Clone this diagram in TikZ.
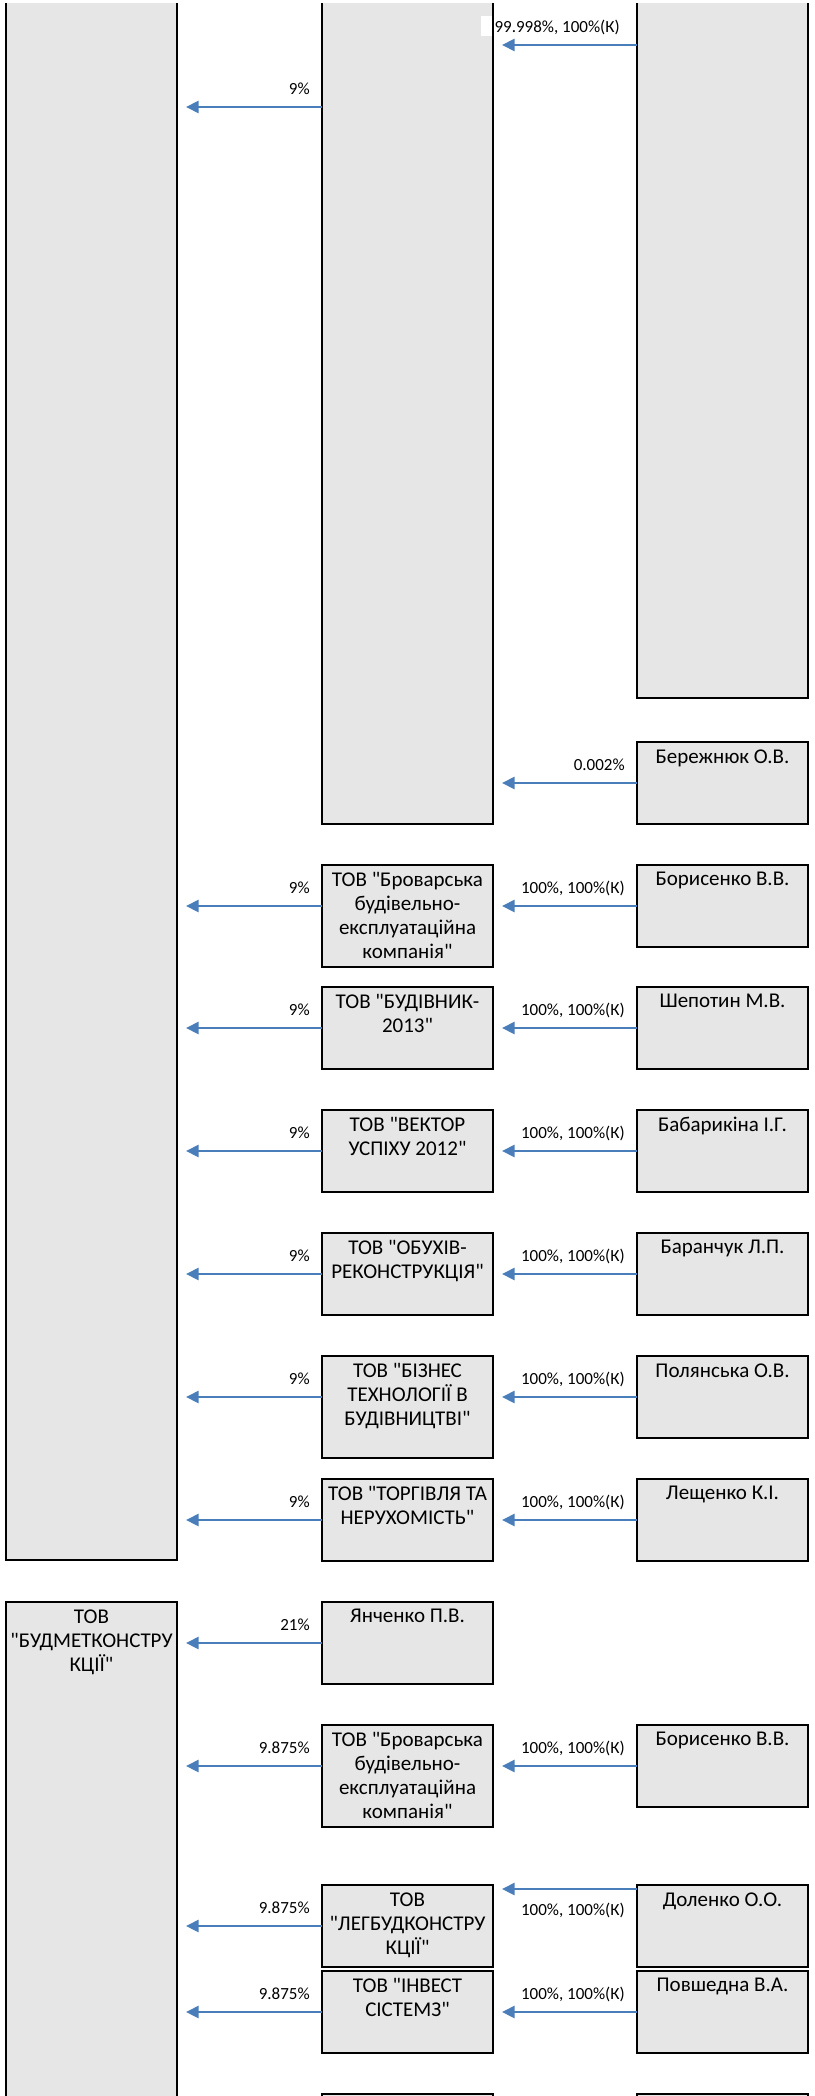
\documentclass[tikz,border=0pt]{standalone}
\usepackage{fontspec}
\setmainfont{Carlito}[Ligatures=TeXOff]
\usetikzlibrary{arrows.meta}
\definecolor{boxgray}{RGB}{230,230,230}
\definecolor{linkblue}{RGB}{74,126,187}

\begin{document}
\begin{tikzpicture}[
        x=0.5pt, y=-0.5pt,
        box/.style={draw=black, line width=1pt, fill=boxgray, anchor=north west, outer sep=0pt, inner sep=0pt, minimum width=85.5pt, minimum height=41pt},
        tall/.style={minimum height=51pt},
        boxtext/.style={anchor=north, align=center, inner sep=0pt, yshift=-3.5pt, font=\fontsize{10.5}{12}\selectfont},
        link/.style={draw=linkblue, line width=1.3pt, -{Triangle[length=6.3pt, width=6pt]}, shorten >=4.5pt},
        pct/.style={anchor=base east, inner sep=0pt, font=\fontsize{8.5}{10}\selectfont, xshift=-5.5pt, yshift=6.35pt},
    ]
    \useasboundingbox (0,0) rectangle (814,2096);
    \clip (0,4) rectangle (814,2096);

    % Draw the owned companies (left column)
    \node[box, minimum height=781pt] (L-1) at (6,-2) {};
    \node[box, minimum height=300pt, label={[boxtext]north:{ТОВ\\"БУДМЕТКОНСТРУ\\КЦІЇ"}}] (L-2) at (6,1602) {};

    % Draw the middle column
    \node[box, minimum height=412.75pt] (M-1) at (322,-2) {};
    \node[box, tall, label={[boxtext]north:{ТОВ "Броварська\\будівельно-\\експлуатаційна\\компанія"}}] (M-2) at (322,865) {};
    \node[box, label={[boxtext]north:{ТОВ "БУДІВНИК-\\2013"}}] (M-3) at (322,987) {};
    \node[box, label={[boxtext]north:{ТОВ "ВЕКТОР\\УСПІХУ 2012"}}] (M-4) at (322,1110) {};
    \node[box, label={[boxtext]north:{ТОВ "ОБУХІВ-\\РЕКОНСТРУКЦІЯ"}}] (M-5) at (322,1233) {};
    \node[box, tall, label={[boxtext]north:{ТОВ "БІЗНЕС\\ТЕХНОЛОГІЇ В\\БУДІВНИЦТВІ"}}] (M-6) at (322,1356) {};
    \node[box, label={[boxtext]north:{ТОВ "ТОРГІВЛЯ ТА\\НЕРУХОМІСТЬ"}}] (M-7) at (322,1479) {};
    \node[box, label={[boxtext]north:{Янченко П.В.}}] (M-8) at (322,1602) {};
    \node[box, tall, label={[boxtext]north:{ТОВ "Броварська\\будівельно-\\експлуатаційна\\компанія"}}] (M-9) at (322,1725) {};
    \node[box, label={[boxtext]north:{ТОВ\\"ЛЕГБУДКОНСТРУ\\КЦІЇ"}}] (M-10) at (322,1885) {};
    \node[box, label={[boxtext]north:{ТОВ "ІНВЕСТ\\СІСТЕМЗ"}}] (M-11) at (322,1971) {};
    \node[box] (M-12) at (322,2094) {};

    % Draw the owners (right column)
    \node[box, minimum height=350pt] (R-1) at (637,-2) {};
    \node[box, label={[boxtext]north:{Бережнюк О.В.}}] (R-2) at (637,742) {};
    \node[box, label={[boxtext]north:{Борисенко В.В.}}] (R-3) at (637,865) {};
    \node[box, label={[boxtext]north:{Шепотин М.В.}}] (R-4) at (637,987) {};
    \node[box, label={[boxtext]north:{Бабарикіна І.Г.}}] (R-5) at (637,1110) {};
    \node[box, label={[boxtext]north:{Баранчук Л.П.}}] (R-6) at (637,1233) {};
    \node[box, label={[boxtext]north:{Полянська О.В.}}] (R-7) at (637,1356) {};
    \node[box, label={[boxtext]north:{Лещенко К.І.}}] (R-8) at (637,1479) {};
    \node[box, label={[boxtext]north:{Борисенко В.В.}}] (R-9) at (637,1725) {};
    \node[box, label={[boxtext]north:{Доленко О.О.}}] (R-10) at (637,1885) {};
    \node[box, label={[boxtext]north:{Повшедна В.А.}}] (R-11) at (637,1971) {};
    \node[box] (R-12) at (637,2094) {};

    % Rows that do not sit on a box centre
    \coordinate (row-a) at (0,45);
    \coordinate (row-b) at (0,107);
    \coordinate (row-c) at (0,1889);

    % Connect the owners with the companies
    \fill[white] (481,16) rectangle (636,36);
    \draw[line width=1pt] (M-1.north east) -- (M-1.south east);
    \draw[link] (R-1.west |- row-a) -- (M-1.east |- row-a) node[pct, at start, xshift=-2.5pt, yshift=-0.35pt] {99.998\%, 100\%(К)};
    \draw[link] (M-1.west |- row-b) -- (L-1.east |- row-b) node[pct, at start] {9\%};
    \draw[link] (R-2.west) -- (M-1.east |- R-2.west) node[pct, at start] {0.002\%};
    \foreach \m/\r in {2/3, 3/4, 4/5, 5/6, 6/7, 7/8} {
        \draw[link] (R-\r.west) -- (M-\m.east |- R-\r.west) node[pct, at start] {100\%, 100\%(К)};
        \draw[link] (M-\m.west |- R-\r.west) -- (L-1.east |- R-\r.west) node[pct, at start] {9\%};
    }

    \draw[link] (M-8.west) -- (L-2.east |- M-8.west) node[pct, at start] {21\%};
    \draw[link] (R-9.west) -- (M-9.east |- R-9.west) node[pct, at start] {100\%, 100\%(К)};
    \draw[link] (M-9.west |- R-9.west) -- (L-2.east |- R-9.west) node[pct, at start] {9.875\%};
    \draw[link] (R-10.west |- row-c) -- (M-10.east |- row-c) node[pct, at start, yshift=-19.35pt] {100\%, 100\%(К)};
    \draw[link] (M-10.west) -- (L-2.east |- M-10.west) node[pct, at start] {9.875\%};
    \draw[link] (R-11.west) -- (M-11.east |- R-11.west) node[pct, at start] {100\%, 100\%(К)};
    \draw[link] (M-11.west) -- (L-2.east |- M-11.west) node[pct, at start] {9.875\%};
\end{tikzpicture}
\end{document}
